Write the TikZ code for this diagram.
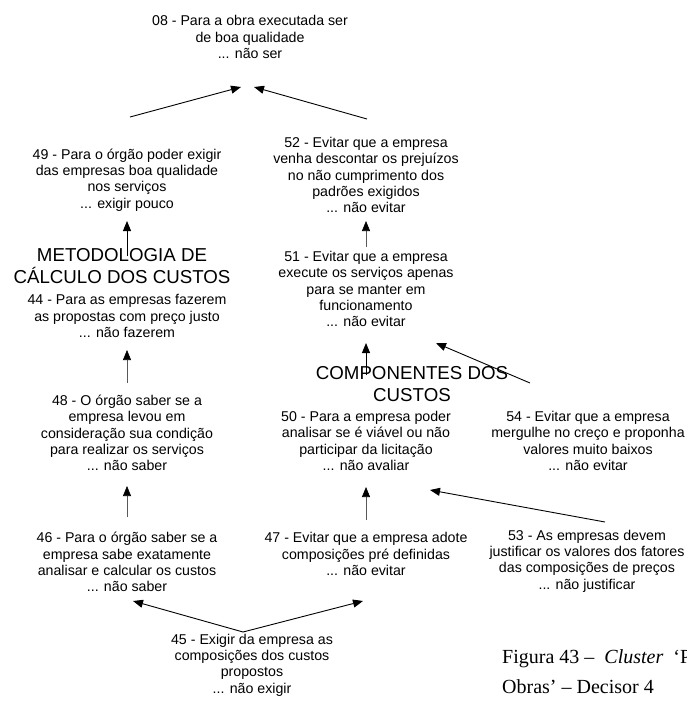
\documentclass[tikz,border=0pt]{standalone}
\usepackage{fontspec}
\setmainfont{Liberation Sans}
\newfontfamily\capfont{Liberation Serif}
\usepackage{tikz}
\usetikzlibrary{positioning}
\usetikzlibrary{arrows.meta,calc}
\tikzstyle{concept} = [align=center, inner sep=2pt, font=\fontsize{14.2}{16.3}\selectfont]
\tikzstyle{clustertitle} = [align=center, inner sep=1pt, font=\fontsize{18.7}{22.5}\selectfont]
\tikzstyle{edge} = [draw, line width=0.9pt, -{Triangle[length=10pt,width=8pt]}]
\tikzstyle{thinedge} = [draw=black!65, line width=0.6pt, -{Triangle[length=10pt,width=8pt,color=black]}]

\begin{document}
\begin{tikzpicture}[x=1pt,y=-1pt]

    \useasboundingbox (0,0) rectangle (686,702);

    % concepts of the map
    \foreach \pos/\name/\txt in {
        {(250,37)/n08/{08 - Para a obra executada ser\\de boa qualidade\\... não ser}},
        {(127,180)/n49/{49 - Para o órgão poder exigir\\das empresas boa qualidade\\nos serviços\\... exigir pouco}},
        {(366,175)/n52/{52 - Evitar que a empresa\\venha descontar os prejuízos\\no não cumprimento dos\\padrões exigidos\\... não evitar}},
        {(127,316)/n44/{44 - Para as empresas fazerem\\as propostas com preço justo\\... não fazerem}},
        {(366,289)/n51/{51 - Evitar que a empresa\\execute os serviços apenas\\para se manter em\\funcionamento\\... não evitar}},
        {(127,433)/n48/{48 - O órgão saber se a\\empresa levou em\\consideração sua condição\\para realizar os serviços\\... não saber}},
        {(366,441)/n50/{50 - Para a empresa poder\\analisar se é viável ou não\\participar da licitação\\... não avaliar}},
        {(588,441)/n54/{54 - Evitar que a empresa\\mergulhe no creço e proponha\\valores muito baixos\\... não evitar}},
        {(127,562)/n46/{46 - Para o órgão saber se a\\empresa sabe exatamente\\analisar e calcular os custos\\... não saber}},
        {(366,554)/n47/{47 - Evitar que a empresa adote\\composições pré definidas\\... não evitar}},
        {(587,561)/n53/{53 - As empresas devem\\justificar os valores dos fatores\\das composições de preços\\... não justificar}},
        {(252,665)/n45/{45 - Exigir da empresa as\\composições dos custos\\propostos\\... não exigir}}}
            \node[concept] (\name) at \pos {\txt};

    % cluster names
    \node[clustertitle] (metodo) at (122,266) {METODOLOGIA DE\\CÁLCULO DOS CUSTOS};
    \node[clustertitle] (compon) at (412,384) {COMPONENTES DOS\\CUSTOS};

    % straight links upwards
    \path[edge] ($(metodo.center -| n49)+(0,-10)$) -- ($(n49)+(0,41)$);
    \path[edge] ($(compon.center -| n51)+(0,-9)$) -- ($(n51)+(0,54)$);
    \path[thinedge] ($(n51)+(0,-42)$) -- ($(n52)+(0,46)$);
    \path[thinedge] ($(n48)+(0,-50)$) -- ($(n44)+(0,34)$);
    \path[thinedge] ($(n46)+(0,-45)$) -- ($(n48)+(0,53)$);
    \path[thinedge] ($(n47)+(0,-34)$) -- ($(n50)+(0,46)$);

    % slanted links
    \path[edge] ($(n49)+(3,-63)$) -- ($(n08)+(-9,50)$);
    \path[edge] ($(n52)+(1,-56)$) -- ($(n08)+(4,50)$);
    \path[edge] ($(n54)+(-58,-58)$) -- ($(n51)+(70,54)$);
    \path[edge] ($(n53)+(18,-39)$) -- ($(n50)+(64,49)$);
    \path[edge] ($(n45)+(-9,-33)$) -- ($(n46)+(6,39)$);
    \path[edge] ($(n45)+(-9,-33)$) -- ($(n47)+(-3,47)$);

    % caption
    \node[anchor=west, align=left, inner sep=0pt, font=\capfont\fontsize{20}{30}\selectfont] (caption) at (502,672)
        {Figura 43 –\ \ \textit{Cluster}\ \ ‘P\\Obras’ – Decisor 4};

\end{tikzpicture}
\end{document}
